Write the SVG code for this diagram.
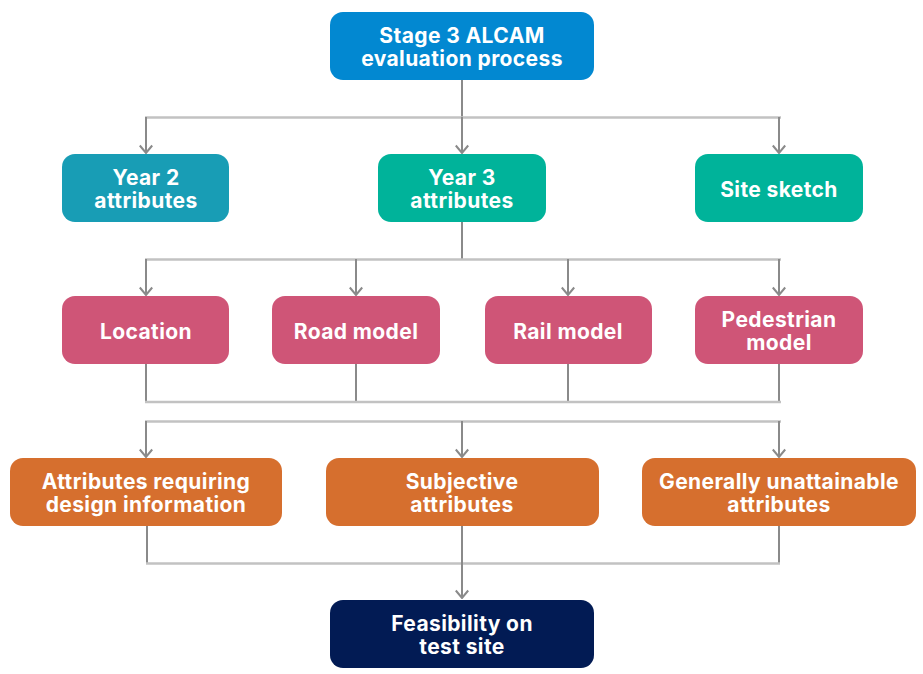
<svg xmlns="http://www.w3.org/2000/svg" width="923" height="674" viewBox="0 0 923 674">
<defs>
<marker id="arr" viewBox="0 0 10 14" refX="9" refY="7" markerWidth="10" markerHeight="14" markerUnits="userSpaceOnUse" orient="auto">
<path d="M1.5 0.8 L9 7 L1.5 13.2" fill="none" stroke="#8a8a8a" stroke-width="2"/>
</marker>
</defs>
<style>
.h{stroke:#c2c2c2;stroke-width:2.5;fill:none}
.v{stroke:#8a8a8a;stroke-width:2;fill:none}
.a{stroke:#8a8a8a;stroke-width:2;fill:none;marker-end:url(#arr)}
text{font-family:Inter,"Liberation Sans",sans-serif;font-weight:700;font-size:21px;fill:#fff;text-anchor:middle;letter-spacing:0.4px}
.blue{fill:#0288d1}
.teal{fill:#189db5}
.green{fill:#00b39a}
.pink{fill:#cf5577}
.orange{fill:#d66f2e}
.navy{fill:#021b54}
</style>
<rect width="923" height="674" fill="#fff"/>
<g id="connectors">
<line class="v" x1="462" y1="80" x2="462" y2="117"/>
<line class="h" x1="145" y1="117.5" x2="781" y2="117.5"/>
<path class="a" d="M146 117 V153"/>
<path class="a" d="M462 117 V153"/>
<path class="a" d="M779 117 V153"/>
<line class="v" x1="462" y1="222" x2="462" y2="259"/>
<line class="h" x1="145" y1="259.5" x2="781" y2="259.5"/>
<path class="a" d="M146 259 V295"/>
<path class="a" d="M356 259 V295"/>
<path class="a" d="M568 259 V295"/>
<path class="a" d="M779 259 V295"/>
<line class="v" x1="146" y1="364" x2="146" y2="402"/>
<line class="v" x1="356" y1="364" x2="356" y2="402"/>
<line class="v" x1="568" y1="364" x2="568" y2="402"/>
<line class="v" x1="779" y1="364" x2="779" y2="402"/>
<line class="h" x1="145" y1="402" x2="781" y2="402"/>
<line class="h" x1="145" y1="421.5" x2="781" y2="421.5"/>
<path class="a" d="M146 421 V457"/>
<path class="a" d="M462 421 V457"/>
<path class="a" d="M779 421 V457"/>
<line class="v" x1="147" y1="526" x2="147" y2="563"/>
<line class="v" x1="779" y1="526" x2="779" y2="563"/>
<line class="h" x1="146" y1="563.5" x2="780" y2="563.5"/>
<path class="a" d="M462 526 V598"/>
</g>
<g id="n-stage3"><rect class="blue" x="330" y="12" width="264" height="68" rx="13"/><text x="462" y="43">Stage 3 ALCAM</text><text x="462" y="66">evaluation process</text></g>
<g id="n-year2"><rect class="teal" x="62" y="154" width="167" height="68" rx="13"/><text x="146" y="185">Year 2</text><text x="146" y="208">attributes</text></g>
<g id="n-year3"><rect class="green" x="378" y="154" width="168" height="68" rx="13"/><text x="462" y="185">Year 3</text><text x="462" y="208">attributes</text></g>
<g id="n-site"><rect class="green" x="695" y="154" width="168" height="68" rx="13"/><text x="779" y="197">Site sketch</text></g>
<g id="n-location"><rect class="pink" x="62" y="296" width="167" height="68" rx="13"/><text x="146" y="339">Location</text></g>
<g id="n-road"><rect class="pink" x="272" y="296" width="168" height="68" rx="13"/><text x="356" y="339">Road model</text></g>
<g id="n-rail"><rect class="pink" x="485" y="296" width="167" height="68" rx="13"/><text x="568" y="339">Rail model</text></g>
<g id="n-ped"><rect class="pink" x="695" y="296" width="168" height="68" rx="13"/><text x="779" y="327">Pedestrian</text><text x="779" y="350">model</text></g>
<g id="n-design"><rect class="orange" x="10" y="458" width="272" height="68" rx="13"/><text x="146" y="489">Attributes requiring</text><text x="146" y="512">design information</text></g>
<g id="n-subjective"><rect class="orange" x="326" y="458" width="273" height="68" rx="13"/><text x="462" y="489">Subjective</text><text x="462" y="512">attributes</text></g>
<g id="n-unattain"><rect class="orange" x="642" y="458" width="274" height="68" rx="13"/><text x="779" y="489">Generally unattainable</text><text x="779" y="512">attributes</text></g>
<g id="n-feas"><rect class="navy" x="330" y="600" width="264" height="68" rx="13"/><text x="462" y="631">Feasibility on</text><text x="462" y="654">test site</text></g>
</svg>
